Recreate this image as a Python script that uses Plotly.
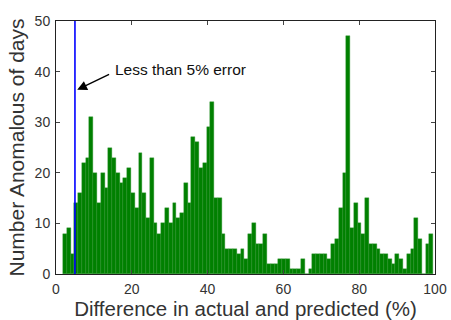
import plotly.graph_objects as go

# Histogram of percentage difference between actual and predicted values
bin_start = 1.85
bin_width = 0.9966
counts = [
    8, 9, 4, 14, 16, 22, 23, 31, 20, 14,
    20, 17, 25, 23, 20, 18, 19, 21, 16, 13,
    24, 16, 11, 23, 10, 8, 10, 13, 10, 14,
    11, 12, 18, 14, 27, 26, 21, 22, 29, 34,
    15, 15, 8, 5, 5, 5, 4, 5, 3, 8,
    10, 6, 6, 8, 2, 2, 2, 3, 3, 3,
    1, 1, 1, 3, 0, 1, 4, 4, 4, 4,
    3, 6, 7, 13, 20, 47, 9, 14, 10, 8,
    15, 6, 6, 5, 4, 4, 3, 2, 4, 3,
    1, 4, 5, 11, 7, 0, 6, 8,
]
bin_centers = [bin_start + bin_width * (i + 0.5) for i in range(len(counts))]

threshold = 5
x_ticks = [0, 20, 40, 60, 80, 100]
y_ticks = [0, 10, 20, 30, 40, 50]

fig = go.Figure()
fig.add_trace(go.Bar(
    x=bin_centers, y=counts, width=bin_width,
    marker=dict(color="#008000", line=dict(color="#2a8f2a", width=0.4)),
    showlegend=False,
))

# 5% error threshold
fig.add_shape(type="line", xref="x", yref="y", x0=threshold, x1=threshold,
              y0=0, y1=50, line=dict(color="#0000ff", width=1.6))

fig.add_annotation(x=5.6, y=36.4, ax=14.4, ay=39.6, xref="x", yref="y",
                   axref="x", ayref="y", text="", showarrow=True,
                   arrowhead=2, arrowsize=1.4, arrowwidth=1.4, arrowcolor="black")
fig.add_annotation(x=15.0, y=40.5, xref="x", yref="y", text="Less than 5% error",
                   showarrow=False, xanchor="left", yanchor="middle",
                   font=dict(size=15.5, color="#111"))

axis_common = dict(showline=True, linecolor="#222", linewidth=1, mirror="ticks",
                   ticks="inside", ticklen=4, tickcolor="#444", showgrid=False,
                   zeroline=False, tickfont=dict(size=14, color="#333"))

fig.update_xaxes(range=[0, 100], tickvals=x_ticks, ticklabelstandoff=2,
                 title=dict(text="Difference in actual and predicted (%)",
                            font=dict(size=20.5, color="#333"), standoff=5),
                 **axis_common)
fig.update_yaxes(range=[0, 50], tickvals=y_ticks, ticklabelstandoff=2,
                 title=dict(text="Number Anomalous of days",
                            font=dict(size=21, color="#333"), standoff=4),
                 **axis_common)

fig.update_layout(
    width=451, height=320, bargap=0,
    margin=dict(l=56, r=16, t=21, b=46, autoexpand=False),
    plot_bgcolor="white", paper_bgcolor="white",
    font=dict(family="Liberation Sans, Arial, sans-serif"),
)

fig.write_html("out.html")
